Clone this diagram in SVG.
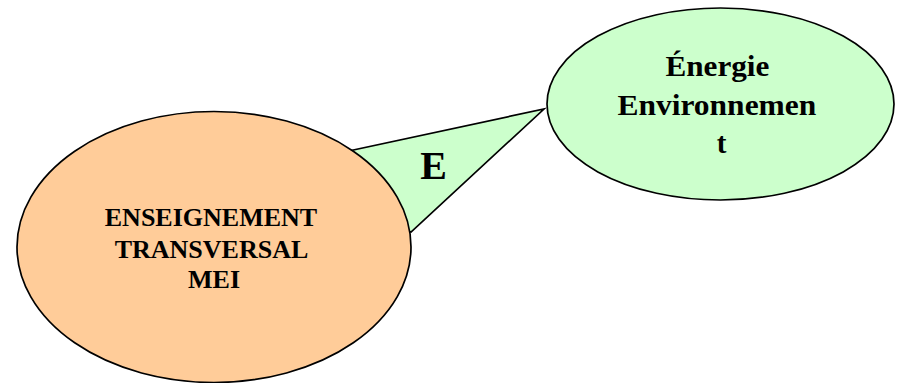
<svg xmlns="http://www.w3.org/2000/svg" width="899" height="383" viewBox="0 0 899 383">
  <style>
    .shape { stroke: #000; stroke-width: 1.7; }
    .orange { fill: #FFCC99; }
    .green { fill: #CCFFCC; }
    .label { font-family: "Liberation Serif", "Times New Roman", serif; font-weight: bold; fill: #000; text-anchor: middle; }
  </style>
  <rect width="899" height="383" fill="#fff"/>
  <!-- callout wedge linking the two ellipses -->
  <g id="connectors">
    <polygon class="shape green" points="330,155 544,109 411,232 340,215"/>
    <text class="label" x="433.5" y="179" font-size="40">E</text>
  </g>
  <g id="node-enseignement">
    <ellipse class="shape orange" cx="214" cy="247" rx="197" ry="135.5"/>
    <text class="label" font-size="26">
      <tspan x="214" y="225.7">ENSEIGNEMENT</tspan>
      <tspan x="214" y="257.7">TRANSVERSAL</tspan>
      <tspan x="214" y="288.3">MEI</tspan>
    </text>
  </g>
  <g id="node-energie">
    <ellipse class="shape green" cx="720.5" cy="104" rx="173.5" ry="96"/>
    <text class="label" font-size="29">
      <tspan x="721" y="76" textLength="104" lengthAdjust="spacingAndGlyphs">Énergie</tspan>
      <tspan x="720.5" y="115" textLength="199" lengthAdjust="spacingAndGlyphs">Environnemen</tspan>
      <tspan x="721.7" y="153">t</tspan>
    </text>
  </g>
</svg>
